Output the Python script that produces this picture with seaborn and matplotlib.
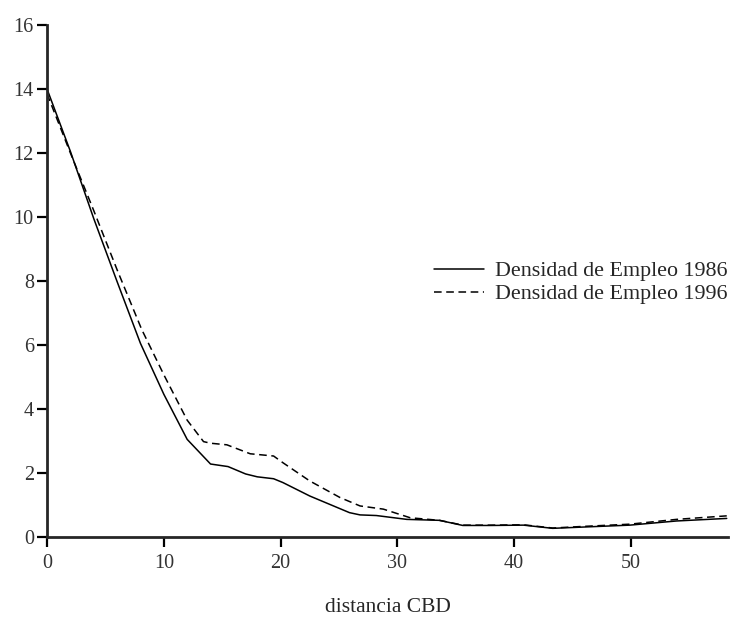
import pandas as pd
import numpy as np
import matplotlib
matplotlib.use("Agg")
import matplotlib.pyplot as plt
import seaborn as sns

# Data
dist_1986 = [0, 2, 4, 6, 8, 10, 12, 14, 15.5, 17, 18, 19.4, 20.2, 22.5, 24.2, 25.9, 26.8, 28.2,
             30.8, 33.6, 35.6, 38, 40.8, 43.3, 45.9, 49.9, 53.9, 58.2]
dens_1986 = [14.0, 12.05, 9.95, 7.98, 6.05, 4.46, 3.05, 2.28, 2.2, 1.97, 1.88, 1.82, 1.7, 1.28, 1.02,
             0.76, 0.69, 0.67, 0.55, 0.52, 0.36, 0.36, 0.37, 0.27, 0.31, 0.37, 0.5, 0.58]

dist_1996 = [0, 2, 4, 6, 8.1, 10, 12, 13.4, 14, 15.4, 17.4, 19.4, 20.2, 22.5, 25.1, 26.8, 28.8,
             31.1, 33.6, 35.6, 38, 40.8, 43.3, 45.9, 49.9, 53.9, 58.2]
dens_1996 = [13.85, 12.0, 10.2, 8.35, 6.49, 5.07, 3.65, 2.98, 2.93, 2.88, 2.6, 2.53, 2.32, 1.75, 1.23,
             0.97, 0.87, 0.6, 0.52, 0.37, 0.37, 0.38, 0.28, 0.33, 0.4, 0.55, 0.66]

label_86 = "Densidad de Empleo 1986"
label_96 = "Densidad de Empleo 1996"

df = pd.concat([
    pd.DataFrame({"dist": dist_1986, "dens": dens_1986, "serie": label_86}),
    pd.DataFrame({"dist": dist_1996, "dens": dens_1996, "serie": label_96}),
])

sns.set_style("ticks")
plt.rcParams['font.family'] = ['Liberation Serif', 'DejaVu Serif']

fig = plt.figure(figsize=(7.36, 6.17), dpi=100)
ax = fig.add_axes([0.0639, 0.1297, 0.9251, 0.8298])

sns.lineplot(data=df, x="dist", y="dens", hue="serie", style="serie",
             palette={label_86: "black", label_96: "black"},
             dashes={label_86: "", label_96: (5, 3)},
             sort=False, estimator=None, linewidth=1.1, ax=ax)

ax.set_xlim(0, 58.3)
ax.set_ylim(0, 16)
ax.set_xticks([0, 10, 20, 30, 40, 50])
ax.set_yticks(range(0, 17, 2))
sns.despine(ax=ax)
for side in ["left", "bottom"]:
    ax.spines[side].set_linewidth(2)
ax.tick_params(axis="both", width=1.6, length=7.5, labelsize=14.5, color="black", labelcolor="#333333")
ax.tick_params(axis="y", pad=2)
ax.tick_params(axis="x", pad=5)
ax.set_xlabel("distancia CBD", fontsize=15.5, labelpad=18)
ax.set_ylabel("")

ax.legend(loc="center left", bbox_to_anchor=(0.539, 0.497), frameon=False, fontsize=15.8,
          handlelength=2.3, handletextpad=0.47, labelspacing=0.12)

plt.savefig("out.png", dpi=100)
